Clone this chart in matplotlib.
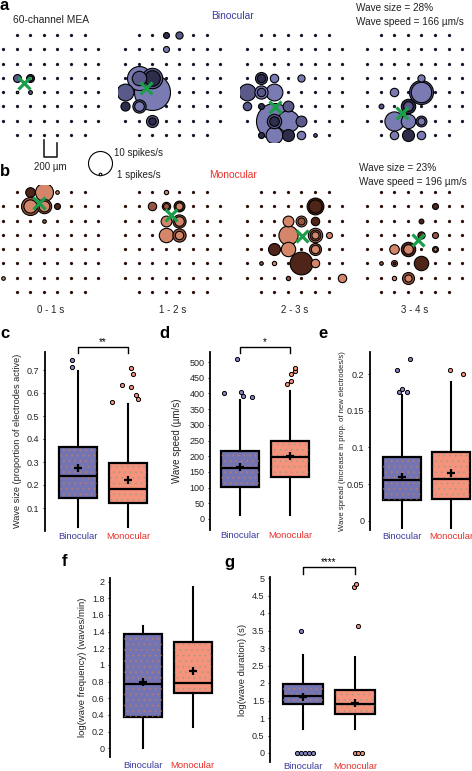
import numpy as np
import matplotlib.pyplot as plt
from matplotlib.patches import PathPatch

plt.rcParams['font.family'] = ['Liberation Sans', 'DejaVu Sans']
plt.rcParams['hatch.linewidth'] = 0.6

W, H = 472, 771

# ---------------- MEA data ----------------
# 8x8 grid without corners = 60 electrodes
n_side = 8
electrodes = [(r, c) for r in range(n_side) for c in range(n_side)
              if not (r in (0, 7) and c in (0, 7))]

# active electrodes: (row, col, spikes/s, shade)  shade: 0 light, 1 mid, 2 dark
bino_0_1 = [(3, 1, 3.3, 1), (3, 2, 3.3, 2), (3, 2, 2.0, 0), (4, 2, 1.6, 1), (4, 1, 1.0, 0)]
bino_1_2 = [(0, 3, 2.5, 2), (0, 4, 3.0, 1), (1, 3, 2.5, 0),
            (4, 2, 15, 0), (3, 1, 10, 0), (3, 1, 6, 1), (3, 2, 8.5, 1), (3, 2, 6.5, 2),
            (4, 0, 7, 1), (5, 0, 3.8, 2), (5, 1, 5.5, 1), (5, 1, 4, 0),
            (6, 2, 5, 1), (6, 2, 3, 2)]
bino_2_3 = [(3, 1, 5, 1), (3, 1, 3.5, 2), (3, 2, 3.5, 0), (3, 4, 3, 0),
            (4, 0, 7, 1), (4, 1, 5.5, 0), (4, 1, 3.5, 1), (4, 2, 7, 0),
            (5, 0, 3.5, 1), (5, 1, 2.5, 2), (5, 3, 4.5, 1),
            (6, 2, 15, 0), (6, 2, 6, 1), (6, 2, 4, 2), (6, 4, 4.5, 1), (6, 3, 9, 0),
            (7, 1, 2.5, 2), (7, 2, 7, 0), (7, 3, 5, 2), (7, 4, 3.5, 0), (7, 5, 1.5, 1)]
bino_3_4 = [(3, 4, 3, 0), (4, 4, 10, 1), (4, 4, 8.5, 0), (4, 2, 3.5, 0),
            (5, 3, 6, 2), (5, 3, 4, 1), (5, 1, 2, 1),
            (6, 2, 8, 0), (6, 3, 6, 0), (6, 4, 4.5, 1), (6, 4, 3, 0),
            (7, 2, 3.5, 0), (7, 3, 5, 2), (7, 4, 3.5, 0)]

mono_0_1 = [(0, 2, 4, 2), (0, 3, 7.5, 0), (0, 4, 1.5, 0),
            (1, 2, 7.5, 1), (1, 2, 5.5, 0), (1, 3, 6, 1), (1, 3, 4.5, 0),
            (1, 4, 2.5, 2), (2, 3, 1.5, 1), (6, 0, 1.5, 0)]
mono_1_2 = [(0, 3, 1.8, 0), (1, 2, 3.5, 1), (1, 3, 3.5, 0), (1, 3, 2.5, 1),
            (1, 4, 4.5, 2), (1, 4, 3, 0), (2, 3, 4.5, 0), (2, 4, 5.5, 1), (2, 4, 4, 0),
            (3, 3, 6, 0), (3, 4, 5.5, 1), (3, 4, 3.5, 0)]
mono_2_3 = [(1, 5, 7, 2), (1, 5, 5.5, 2), (2, 3, 4.5, 0), (2, 4, 4.5, 0), (2, 4, 3, 1),
            (2, 5, 3.5, 2), (3, 3, 8, 0), (3, 5, 6, 0), (3, 5, 4.5, 1), (3, 5, 3, 0),
            (3, 6, 2.5, 0), (4, 2, 5, 2), (4, 3, 6, 0), (4, 5, 5, 1), (4, 5, 3.5, 0),
            (5, 4, 9.5, 2), (5, 2, 1.8, 0), (5, 5, 3.5, 0), (5, 1, 1.5, 1),
            (6, 3, 1.8, 1), (6, 7, 3.5, 0)]
mono_3_4 = [(1, 5, 2.5, 2), (2, 4, 2, 2), (3, 4, 3, 2), (3, 5, 2.5, 1),
            (4, 2, 4, 0), (4, 3, 6, 2), (4, 3, 4, 0), (4, 5, 2.5, 1), (4, 5, 1.5, 0),
            (5, 4, 6, 2), (5, 2, 2.5, 0), (5, 2, 1.3, 2), (5, 1, 1.5, 1),
            (6, 3, 5, 1), (6, 3, 3, 0), (6, 2, 1.8, 0)]

bino_frames = [bino_0_1, bino_1_2, bino_2_3, bino_3_4]
mono_frames = [mono_0_1, mono_1_2, mono_2_3, mono_3_4]
# centre of activity (col, row)
bino_centre = [(1.54, 3.36), (1.54, 3.7), (2.06, 5.03), (2.57, 5.45)]
mono_centre = [(2.65, 0.77), (3.38, 1.6), (4.02, 3.08), (3.75, 3.36)]
time_labels = ['0 - 1 s', '1 - 2 s', '2 - 3 s', '3 - 4 s']

bino_shades = ['#7b7bb4', '#5a5a8a', '#2e2e4c']
mono_shades = ['#d5866a', '#9a5540', '#4f2519']
bino_dot = '#15152a'
mono_dot = '#2c0f08'

# ---------------- box plot data ----------------
groups = ['Binocular', 'Monocular']
size_stats = [dict(q1=0.145, med=0.237, q3=0.367, mean=0.273, whislo=0.017, whishi=0.695),
              dict(q1=0.123, med=0.182, q3=0.295, mean=0.222, whislo=0.017, whishi=0.553)]
size_fliers = [[0.715, 0.745], [0.562, 0.635, 0.71, 0.683, 0.627, 0.59, 0.575]]
size_jitter = [[-6, -6], [-16, -6, 3, 5, 3, 8, 10]]

speed_stats = [dict(q1=101, med=161, q3=217, mean=165, whislo=12, whishi=379),
               dict(q1=135, med=198, q3=249, mean=200, whislo=12, whishi=408)]
speed_fliers = [[400, 509, 403, 392, 390], [429, 440, 462, 470, 482]]
speed_jitter = [[-16, -3, 1, 3, 12], [-3, 1, 1, 5, 5]]

spread_stats = [dict(q1=0.028, med=0.0555, q3=0.0865, mean=0.06, whislo=-0.01, whishi=0.171),
                dict(q1=0.029, med=0.0565, q3=0.094, mean=0.0647, whislo=-0.01, whishi=0.189)]
spread_fliers = [[0.2055, 0.2206, 0.176, 0.18, 0.176], [0.2055, 0.1997]]
spread_jitter = [[-5, 8, -3, 0, 5], [-1, 12]]

freq_stats = [dict(q1=0.379, med=0.768, q3=1.372, mean=0.80, whislo=0.0, whishi=1.468),
              dict(q1=0.667, med=0.787, q3=1.28, mean=0.928, whislo=0.26, whishi=1.932)]
freq_fliers = [[], []]
freq_jitter = [[], []]

dur_stats = [dict(q1=1.40, med=1.64, q3=1.97, mean=1.61, whislo=0.70, whishi=2.80),
             dict(q1=1.11, med=1.41, q3=1.81, mean=1.44, whislo=0.70, whishi=2.74)]
dur_fliers = [[3.5, 0, 0, 0, 0, 0], [4.74, 4.82, 3.64, 0, 0, 0]]
dur_jitter = [[-2, -6, -2, 2, 6, 10], [-1, 1, 3, 0, 3, 7]]

box_colors = ['#7474b2', '#f5937d']
flier_colors = ['#8686c6', '#f5937d']
speckle_colors = ['#e0843c', '#3aa88a']
speckle_alpha = [0.45, 0.3]
label_colors = ['#3c3ca0', '#e8302a']


def px(left, top, width, height):
    return [left / W, 1 - (top + height) / H, width / W, height / H]


def rate_size(rate):
    # radius 1.2 px per spike/s -> scatter size in pt^2
    return (2 * 1.2 * rate * 0.72) ** 2


fig = plt.figure(figsize=(W / 100, H / 100), dpi=100)

# overlay for annotations
ax0 = fig.add_axes([0, 0, 1, 1])
ax0.set_xlim(0, W)
ax0.set_ylim(H, 0)
ax0.axis('off')

dx, dy = 13.6, 14.3
grid_x0 = [3, 125, 247, 367]
grid_y0 = [35, 192]


def draw_mea(x0, y0, frame, centre, shades, dotc):
    ax = fig.add_axes(px(x0 - dx / 2, y0 - dy / 2, dx * 8, dy * 8))
    ax.set_xlim(-0.5, 7.5)
    ax.set_ylim(7.5, -0.5)
    ax.axis('off')
    er = [e[0] for e in electrodes]
    ec = [e[1] for e in electrodes]
    ax.scatter(ec, er, s=5.5, color=dotc, lw=0, zorder=1)
    fr = sorted(frame, key=lambda t: -t[2])
    for k, (r, c, rate, sh) in enumerate(fr):
        ax.scatter([c], [r], s=rate_size(rate), facecolor=shades[sh],
                   edgecolor='black', lw=0.8, zorder=2 + k * 0.01)
    ax.plot([centre[0]], [centre[1]], marker='x', color='#1a9e4a',
            ms=8.5, mew=2.3, zorder=5)
    return ax


for i in range(4):
    draw_mea(grid_x0[i], grid_y0[0], bino_frames[i], bino_centre[i], bino_shades, bino_dot)
    draw_mea(grid_x0[i], grid_y0[1], mono_frames[i], mono_centre[i], mono_shades, mono_dot)
    ax0.text(grid_x0[i] + dx * 3.5, 310, time_labels[i], ha='center', va='center',
             fontsize=7, color='#222222')

# texts for a / b
ax0.text(0, 6, 'a', fontsize=12, fontweight='bold', va='center', ha='left')
ax0.text(0, 172, 'b', fontsize=12, fontweight='bold', va='center', ha='left')
ax0.text(13, 20, '60-channel MEA', fontsize=7.4, va='center', ha='left', color='#222222')
ax0.text(232, 16, 'Binocular', fontsize=7.4, va='center', ha='center', color=label_colors[0])
ax0.text(233, 175, 'Monocular', fontsize=7.4, va='center', ha='center', color=label_colors[1])
ax0.text(356, 8, 'Wave size = 28%', fontsize=7.2, va='center', ha='left', color='#222222')
ax0.text(356, 22, 'Wave speed = 166 \u00b5m/s', fontsize=7.2, va='center', ha='left', color='#222222')
ax0.text(359, 168, 'Wave size = 23%', fontsize=7.2, va='center', ha='left', color='#222222')
ax0.text(359, 182, 'Wave speed = 196 \u00b5m/s', fontsize=7.2, va='center', ha='left', color='#222222')

# scale bar
ax0.plot([43.5, 43.5, 57, 57], [140, 157, 157, 143], color='#222222', lw=1.2)
ax0.text(50, 167, '200 \u00b5m', fontsize=7, ha='center', va='center', color='#222222')
# size legend
ax0.scatter([100], [163], s=rate_size(10), facecolor='white', edgecolor='black', lw=0.8)
ax0.scatter([100], [173.5], s=rate_size(1.1), facecolor='white', edgecolor='black', lw=0.8)
ax0.text(114, 153, '10 spikes/s', fontsize=7, ha='left', va='center', color='#222222')
ax0.text(117, 175, '1 spikes/s', fontsize=7, ha='left', va='center', color='#222222')

# panel letters for box plots
for letter, (lx, ly) in zip('cdefg', [(0, 333), (159, 333), (318, 333), (62, 562), (224, 563)]):
    ax0.text(lx, ly, letter, fontsize=12, fontweight='bold', va='center', ha='left')


def box_panel(left, x_lo, x_hi, ppx, y_zero, ppy, ylim, yticks, yticklabels,
              stats, fliers, jitter, ylabel, lab_x, lab_size, xpad):
    top = y_zero - ylim[1] * ppy
    height = (ylim[1] - ylim[0]) * ppy
    width = (x_hi - x_lo) * ppx
    ax = fig.add_axes(px(left, top, width, height))
    st = [dict(s, fliers=[]) for s in stats]
    bp = ax.bxp(st, positions=[1, 2], widths=0.76, showfliers=False, showcaps=False,
                showmeans=True, patch_artist=True,
                boxprops=dict(edgecolor='black', linewidth=1.6),
                medianprops=dict(color='black', linewidth=1.6),
                whiskerprops=dict(color='black', linewidth=1.5),
                meanprops=dict(marker='+', markeredgecolor='black', markersize=6,
                               markeredgewidth=1.6))
    for i, b in enumerate(bp['boxes']):
        b.set_facecolor(box_colors[i])
        b.set_zorder(2)
        sp = PathPatch(b.get_path(), transform=ax.transData, facecolor='none',
                       edgecolor=speckle_colors[i], lw=0, hatch='...',
                       alpha=speckle_alpha[i], zorder=2.1)
        ax.add_patch(sp)
    for m in bp['medians'] + bp['means']:
        m.set_zorder(3)
    for i in range(2):
        if fliers[i]:
            xs = i + 1 + np.array(jitter[i]) / ppx
            ax.scatter(xs, fliers[i], s=9, facecolor=flier_colors[i],
                       edgecolor='black', lw=0.7, zorder=4, clip_on=False)
    ax.set_xlim(x_lo, x_hi)
    ax.set_ylim(*ylim)
    ax.set_yticks(yticks)
    ax.set_yticklabels(yticklabels)
    ax.set_xticks([1, 2])
    ax.set_xticklabels(groups, fontsize=6.8)
    for t, c in zip(ax.get_xticklabels(), label_colors):
        t.set_color(c)
    ax.tick_params(axis='x', length=0, pad=xpad)
    ax.tick_params(axis='y', length=1.5, width=0.8, labelsize=6.5, pad=2.5,
                   colors='#222222')
    for s in ['top', 'right', 'bottom']:
        ax.spines[s].set_visible(False)
    ax.spines['left'].set_linewidth(1.3)
    ax.set_ylabel(ylabel, fontsize=lab_size, color='#222222')
    ax.yaxis.set_label_coords((lab_x - left) / width, 0.5)
    ax.patch.set_alpha(0)
    return ax


def bracket(ax, y0, y1, txt):
    ax.plot([1, 1, 2, 2], [y0, y1, y1, y0], color='black', lw=1.0, clip_on=False)
    ax.text(1.5, y1, txt, ha='center', va='bottom', fontsize=7)


# c
ax_c = box_panel(45, 0.34, 2.5, 50, 531, 230, (0, 0.78),
                 [0.1, 0.2, 0.3, 0.4, 0.5, 0.6, 0.7],
                 ['0.1', '0.2', '0.3', '0.4', '0.5', '0.6', '0.7'],
                 size_stats, size_fliers, size_jitter,
                 'Wave size (proportion of electrodes active)', 22.5, 6.6, 0.5)
bracket(ax_c, 0.775, 0.80, '**')

# d
ax_d = box_panel(210, 0.4, 2.5, 50, 519, 0.314, (-35, 532),
                 list(range(0, 501, 50)), [str(v) for v in range(0, 501, 50)],
                 speed_stats, speed_fliers, speed_jitter,
                 'Wave speed (\u00b5m/s)', 182, 7, 1)
bracket(ax_d, 528, 548, '*')

# e
ax_e = box_panel(370, 0.347, 2.45, 49, 520.7, 733.3, (-0.013, 0.23),
                 [0, 0.05, 0.1, 0.15, 0.2], ['0', '0.05', '0.1', '0.15', '0.2'],
                 spread_stats, spread_fliers, spread_jitter,
                 'Wave spread (increase in prop. of new electrodes/s)', 346.5, 5.6, 1)

# f
ax_f = box_panel(110, 0.35, 2.45, 50, 748.3, 83.33, (-0.104, 2.044),
                 [0, 0.2, 0.4, 0.6, 0.8, 1.0, 1.2, 1.4, 1.6, 1.8, 2.0],
                 ['0', '0.2', '0.4', '0.6', '0.8', '1', '1.2', '1.4', '1.6', '1.8', '2'],
                 freq_stats, freq_fliers, freq_jitter,
                 'log(wave frequency) (waves/min)', 87, 6.8, 3)

# g
ax_g = box_panel(270, 0.365, 2.45, 52, 753, 35, (-0.26, 5.03),
                 [0, 0.5, 1, 1.5, 2, 2.5, 3, 3.5, 4, 4.5, 5],
                 ['0', '0.5', '1', '1.5', '2', '2.5', '3', '3.5', '4', '4.5', '5'],
                 dur_stats, dur_fliers, dur_jitter,
                 'log(wave duration) (s)', 247, 6.8, 0.2)
bracket(ax_g, 5.11, 5.31, '****')

fig.savefig('out.png', dpi=100)
